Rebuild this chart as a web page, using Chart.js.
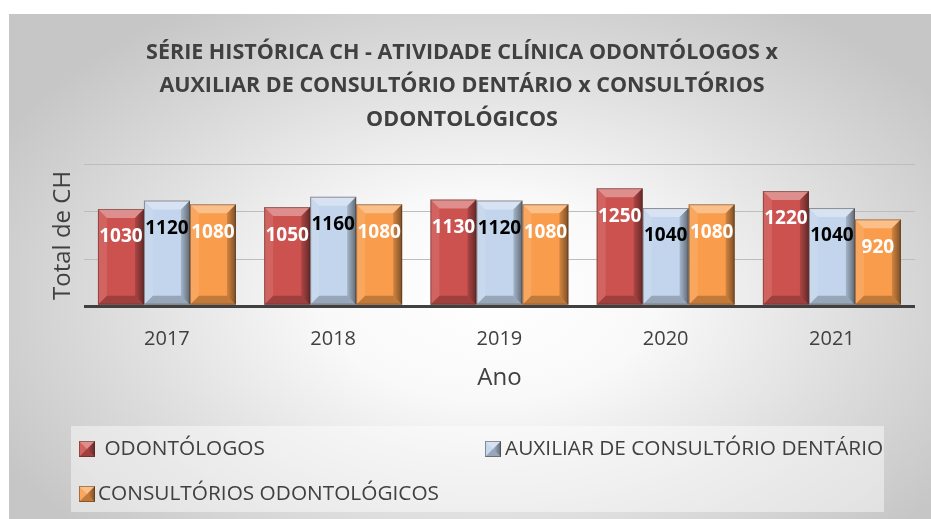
<!DOCTYPE html>
<html lang="pt-BR">
<head>
<meta charset="UTF-8">
<title>Série histórica CH</title>
<script src="https://cdn.jsdelivr.net/npm/chart.js@4"></script>
<style>
    html, body { margin: 0; padding: 0; background: #fff; }
    #box {
        position: absolute; left: 9px; top: 14px; width: 922px; height: 505px;
        background: radial-gradient(ellipse 60% 68% at 52% 56%, #ffffff 0%, #f9f9f9 30%, #dadada 72%, #c6c6c6 100%);
    }
</style>
</head>
<body>
<div id="box"><canvas id="grafico" width="922" height="505"></canvas></div>
<script>
    // dados
    const anos = ['2017', '2018', '2019', '2020', '2021'];
    const odontologos = [1030, 1050, 1130, 1250, 1220];
    const auxiliar = [1120, 1160, 1120, 1040, 1040];
    const consultorios = [1080, 1080, 1080, 1080, 920];
    const nomes = [' ODONTÓLOGOS', 'AUXILIAR DE CONSULTÓRIO DENTÁRIO', 'CONSULTÓRIOS ODONTOLÓGICOS'];

    const cores = ['#cc5250', '#c2d5ec', '#f99d4c'];
    const corRotulo = ['#ffffff', '#000000', '#ffffff'];
    const cinza = '#404040';
    const fonte = '"Open Sans", sans-serif';

    function poly(ctx, pts, fill) {
        ctx.beginPath();
        ctx.moveTo(pts[0][0], pts[0][1]);
        for (let i = 1; i < pts.length; i++) ctx.lineTo(pts[i][0], pts[i][1]);
        ctx.closePath();
        ctx.fillStyle = fill;
        ctx.fill();
    }

    // efeito de bisel, como no Excel
    function bisel(ctx, x0, y0, x1, y1, b) {
        poly(ctx, [[x0, y0], [x1, y0], [x1 - b, y0 + b], [x0 + b, y0 + b]], 'rgba(255,255,255,0.35)');
        poly(ctx, [[x0, y0], [x0 + b, y0 + b], [x0 + b, y1 - b], [x0, y1]], 'rgba(255,255,255,0.10)');
        const g = ctx.createLinearGradient(x1 - b, 0, x1, 0);
        g.addColorStop(0, 'rgba(0,0,0,0.15)');
        g.addColorStop(1, 'rgba(0,0,0,0.5)');
        poly(ctx, [[x1, y0], [x1, y1], [x1 - b, y1 - b], [x1 - b, y0 + b]], g);
        poly(ctx, [[x0, y1], [x0 + b, y1 - b], [x1 - b, y1 - b], [x1, y1]], 'rgba(0,0,0,0.22)');
        ctx.strokeStyle = 'rgba(60,40,30,0.45)';
        ctx.lineWidth = 1;
        ctx.strokeRect(x0 + 0.5, y0 + 0.5, x1 - x0 - 1, y1 - y0 - 1);
    }

    const biselPlugin = {
        id: 'biselPlugin',
        afterDatasetsDraw(chart) {
            const ctx = chart.ctx;
            ctx.save();
            chart.data.datasets.forEach((ds, i) => {
                chart.getDatasetMeta(i).data.forEach(bar => {
                    const x0 = bar.x - bar.width / 2, x1 = bar.x + bar.width / 2;
                    bisel(ctx, x0, bar.y, x1, bar.base, 9);
                });
            });
            chart.data.datasets.forEach((ds, i) => {
                chart.getDatasetMeta(i).data.forEach((bar, j) => {
                    ctx.font = 'bold 19px ' + fonte;
                    ctx.textAlign = 'center';
                    ctx.textBaseline = 'middle';
                    ctx.fillStyle = corRotulo[i];
                    ctx.fillText(ds.data[j], bar.x, bar.y + 28);
                });
            });
            ctx.restore();
        }
    };

    const legendaPlugin = {
        id: 'legendaPlugin',
        afterDraw(chart) {
            const ctx = chart.ctx;
            const itens = [[70, 427, 90], [476, 427, 496], [70, 472, 89]];
            ctx.save();
            ctx.fillStyle = 'rgba(255,255,255,0.45)';
            ctx.fillRect(62, 412, 813, 86);
            itens.forEach((it, i) => {
                ctx.fillStyle = cores[i];
                ctx.fillRect(it[0], it[1], 16, 16);
                bisel(ctx, it[0], it[1], it[0] + 16, it[1] + 16, 8);
                ctx.font = '20.8px ' + fonte;
                ctx.textAlign = 'left';
                ctx.textBaseline = 'middle';
                ctx.fillStyle = cinza;
                ctx.fillText(nomes[i], it[2], it[1] + 8);
            });
            ctx.restore();
        }
    };

    new Chart(document.getElementById('grafico'), {
        type: 'bar',
        data: {
            labels: anos,
            datasets: [
                { label: nomes[0], data: odontologos, backgroundColor: cores[0] },
                { label: nomes[1], data: auxiliar, backgroundColor: cores[1] },
                { label: nomes[2], data: consultorios, backgroundColor: cores[2] }
            ]
        },
        options: {
            responsive: false,
            animation: false,
            categoryPercentage: 0.83,
            barPercentage: 1,
            layout: { padding: { left: 0, right: 16, top: 0, bottom: 126 } },
            plugins: {
                legend: { display: false },
                tooltip: { enabled: false },
                title: {
                    display: true,
                    text: ['SÉRIE HISTÓRICA CH - ATIVIDADE CLÍNICA ODONTÓLOGOS x',
                           'AUXILIAR DE CONSULTÓRIO DENTÁRIO x CONSULTÓRIOS',
                           'ODONTOLÓGICOS'],
                    color: cinza,
                    font: { family: fonte, size: 21.5, weight: 'bold', lineHeight: 1.56 },
                    padding: { top: 22, bottom: 28 }
                }
            },
            scales: {
                x: {
                    grid: { display: false },
                    border: { display: false },
                    ticks: { color: cinza, font: { family: fonte, size: 20 }, padding: 13 },
                    title: { display: true, text: 'Ano', color: cinza, font: { family: fonte, size: 24 }, padding: { top: 0, bottom: 0 } }
                },
                y: {
                    min: 0,
                    max: 1500,
                    ticks: { display: false, stepSize: 500 },
                    border: { display: false },
                    grid: {
                        drawTicks: false,
                        color: c => c.tick.value === 0 ? cinza : '#bdbdbd',
                        lineWidth: c => c.tick.value === 0 ? 3 : 1
                    },
                    title: { display: true, text: 'Total de CH', color: cinza, font: { family: fonte, size: 24 }, padding: { top: 40, bottom: 6 } }
                }
            }
        },
        plugins: [biselPlugin, legendaPlugin]
    });
</script>
</body>
</html>
